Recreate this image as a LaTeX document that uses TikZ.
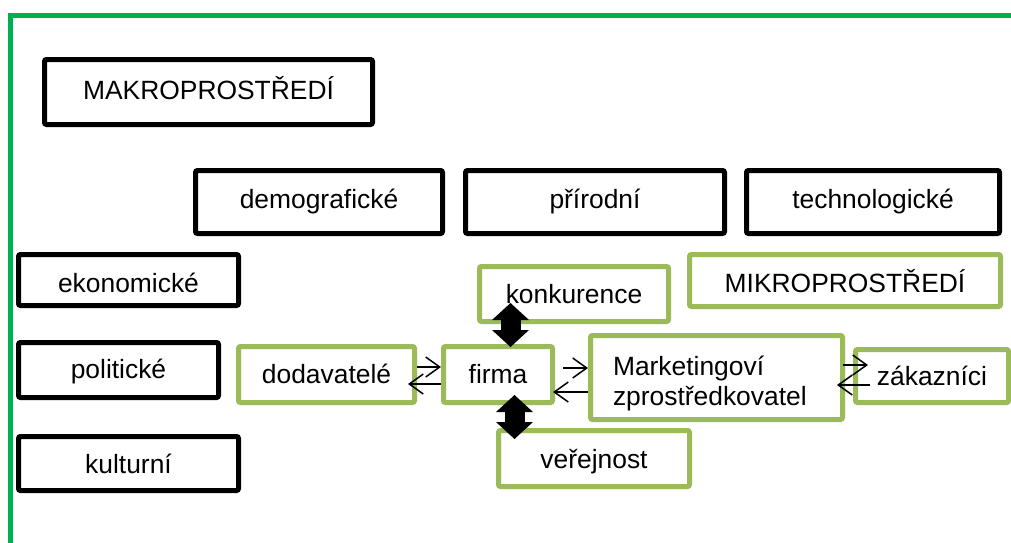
\documentclass[tikz,border=0pt]{standalone}
\usepackage{fontspec}
\setmainfont{Liberation Sans}
\usetikzlibrary{arrows.meta}
\definecolor{frameGreen}{HTML}{00B050}
\definecolor{boxGreen}{HTML}{9BBB59}
\tikzset{
  box/.style={draw, fill=white, line width=5pt, rounded corners=2pt, inner xsep=0pt, inner ysep=0pt,
    font=\fontsize{26.4pt}{30pt}\selectfont},
  blackbox/.style={box, draw=black},
  greenbox/.style={box, draw=boxGreen},
  sz/.style n args={4}{minimum width=#1pt, minimum height=#2pt, text height=#3pt, text depth=#4pt},
  flow/.style={line width=1.5pt, -{Straight Barb[length=14pt,width=20pt]}},
  fat/.style={line width=20pt,
    {Triangle[width=37pt,length=17pt,line width=0pt]}-{Triangle[width=37pt,length=17pt,line width=0pt]}},
  frameline/.style={draw=frameGreen, line width=5pt}
}
\begin{document}
\begin{tikzpicture}[x=1pt,y=-1pt]
\useasboundingbox (0,0) rectangle (1011,542);
\draw[frameline] (10,15.5) rectangle (1040,570);

\node[blackbox, sz={328}{65}{39.5}{25.5}] (makro) at (208.5,92) {MAKROPROSTŘEDÍ};
\node[blackbox, sz={247}{63}{37.5}{25.5}] (demo) at (319,202) {demografické};
\node[blackbox, sz={259}{63}{37.5}{25.5}] (prir) at (595,202) {přírodní};
\node[blackbox, sz={253}{63}{37.5}{25.5}] (tech) at (873,202) {technologické};
\node[blackbox, sz={220}{51}{37.5}{13.5}] (ekon) at (128.5,280) {ekonomické};
\node[blackbox, sz={200}{55}{35.5}{19.5}] (poli) at (118.5,370) {politické};
\node[blackbox, sz={220}{54}{36.5}{17.5}] (kult) at (128.5,463.5) {kulturní};

\node[greenbox, sz={311}{52}{37.5}{14.5}] (mikro) at (845,280.5) {MIKROPROSTŘEDÍ};
\node[greenbox, sz={189}{55}{36.5}{18.5}] (konk) at (574,294) {konkurence};
\node[greenbox, sz={176}{56}{36.5}{19.5}] (dod) at (326.5,374.5) {dodavatelé};
\node[greenbox, sz={109}{56}{36.5}{19.5}] (firma) at (498,374.5) {firma};
\node[greenbox, sz={252}{84}{39.5}{44.5}] (mkt) at (716.5,377.5)
  {\begin{tabular}[t]{@{}p{207pt}@{}}Marketingoví\\zprostředkovatel\end{tabular}};
\node[greenbox, sz={153}{53}{35.5}{17.5}] (zak) at (932,376) {zákazníci};
\node[greenbox, sz={191}{56}{37.5}{18.5}] (ver) at (594,458.5) {veřejnost};

\draw[flow] ([yshift=7.5pt]dod.east) -- ([yshift=7.5pt]firma.west);
\draw[flow] ([yshift=-9.5pt]firma.west) -- ([xshift=-9pt,yshift=-9.5pt]dod.east);
\draw[flow] ([xshift=8pt,yshift=6.5pt]firma.east) -- ([yshift=6.5pt]firma.east -| mkt.west);
\draw[flow] ([yshift=-17.5pt]firma.east -| mkt.west) -- ([xshift=-2pt,yshift=-17.5pt]firma.east);
\draw[flow] ([xshift=-2pt,yshift=11pt]zak.west -| mkt.east) -- ([xshift=15pt,yshift=11pt]zak.west);
\draw[flow] ([xshift=17pt,yshift=-9pt]zak.west) -- ([xshift=-8pt,yshift=-9pt]zak.west -| mkt.east);

\draw[fat] ([xshift=12.5pt,yshift=21pt]konk.south -| firma.north) -- ([xshift=12.5pt,yshift=-3pt]firma.north);
\draw[fat] ([xshift=16.5pt,yshift=10pt]firma.south) -- ([xshift=16.5pt,yshift=-11pt]ver.north -| firma.south);
\end{tikzpicture}
\end{document}
